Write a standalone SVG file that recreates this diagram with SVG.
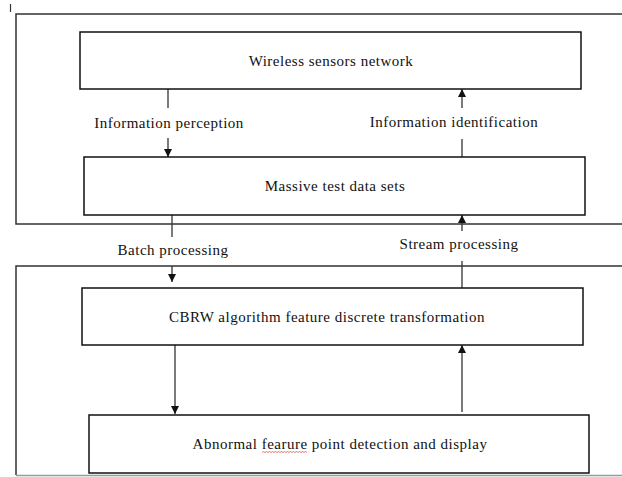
<svg xmlns="http://www.w3.org/2000/svg" width="622" height="477" viewBox="0 0 622 477">
<defs>
<marker id="ah" viewBox="0 0 10 10" refX="10" refY="5" markerWidth="8" markerHeight="8" markerUnits="userSpaceOnUse" orient="auto">
<path d="M0,0 L10,5 L0,10 z" fill="#111"/>
</marker>
</defs>
<style>
.frame{fill:none;stroke:#333;stroke-width:1.5}
.box{fill:#fff;stroke:#111;stroke-width:1.5}
.ln{fill:none;stroke:#333;stroke-width:1.3}
.t{font-family:"Liberation Serif","Times New Roman",serif;font-size:15px;letter-spacing:0.5px;fill:#111;text-anchor:middle}
</style>
<rect width="622" height="477" fill="#fff"/>
<line x1="10.5" y1="4" x2="10.5" y2="12" stroke="#333" stroke-width="1.2"/>
<g id="frames">
<path class="frame" d="M630,14 L16,14 L16,224 L630,224"/>
<path class="frame" d="M630,266 L16,266 L16,475"/>
<line x1="16" y1="475.5" x2="622" y2="475.5" stroke="#999" stroke-width="1.5"/>
</g>
<g id="connectors">
<line class="ln" x1="168" y1="89" x2="168" y2="108"/>
<line class="ln" x1="168" y1="138" x2="168" y2="157" marker-end="url(#ah)"/>
<line class="ln" x1="462" y1="157" x2="462" y2="139"/>
<line class="ln" x1="462" y1="108" x2="462" y2="89" marker-end="url(#ah)"/>
<line class="ln" x1="172" y1="215" x2="172" y2="237"/>
<line class="ln" x1="172" y1="266" x2="172" y2="282" marker-end="url(#ah)"/>
<line class="ln" x1="462" y1="288" x2="462" y2="261"/>
<line class="ln" x1="462" y1="231" x2="462" y2="215" marker-end="url(#ah)"/>
<line class="ln" x1="175" y1="345" x2="175" y2="414" marker-end="url(#ah)"/>
<line class="ln" x1="462" y1="412" x2="462" y2="345" marker-end="url(#ah)"/>
<text class="t" x="169" y="128">Information perception</text>
<text class="t" x="454" y="127">Information identification</text>
<text class="t" x="173" y="255">Batch processing</text>
<text class="t" x="459" y="249">Stream processing</text>
</g>
<g id="n1">
<rect class="box" x="80" y="32" width="501" height="57"/>
<text class="t" x="331" y="66">Wireless sensors network</text>
</g>
<g id="n2">
<rect class="box" x="84" y="157" width="501" height="58"/>
<text class="t" x="335" y="191">Massive test data sets</text>
</g>
<g id="n3">
<rect class="box" x="82" y="288" width="501" height="57"/>
<text class="t" x="327" y="322">CBRW algorithm feature discrete transformation</text>
</g>
<g id="n4">
<rect class="box" x="89" y="415" width="500" height="58"/>
<text class="t" x="340" y="449">Abnormal fearure point detection and display</text>
<path d="M262,452.5 l1.5,-1 l1.5,1 l1.5,-1 l1.5,1 l1.5,-1 l1.5,1 l1.5,-1 l1.5,1 l1.5,-1 l1.5,1 l1.5,-1 l1.5,1 l1.5,-1 l1.5,1 l1.5,-1 l1.5,1 l1.5,-1 l1.5,1 l1.5,-1 l1.5,1 l1.5,-1 l1.5,1 l1.5,-1 l1.5,1 l1.5,-1 l1.5,1 l1.5,-1 l1.5,1 l1.5,-1 l1.5,1" fill="none" stroke="#e05050" stroke-width="0.8"/>
</g>
</svg>
